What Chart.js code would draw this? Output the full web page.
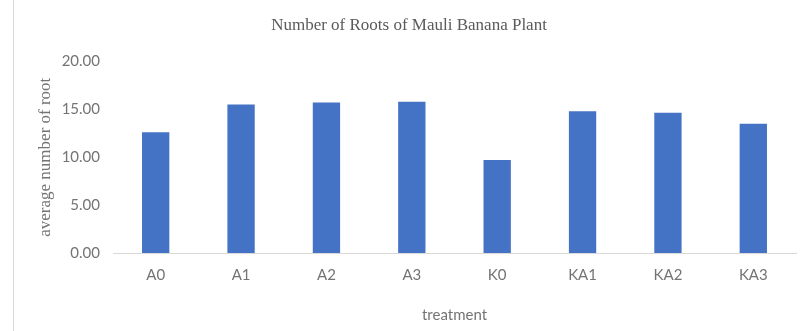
<!DOCTYPE html>
<html>
<head>
<meta charset="utf-8">
<script src="https://cdn.jsdelivr.net/npm/chart.js@4/dist/chart.umd.min.js"></script>
<style>
  html, body { margin: 0; padding: 0; background: #fff; }
  #wrap { width: 806px; height: 331px; }
</style>
</head>
<body>
<div id="wrap"><canvas id="rootChart" width="806" height="331"></canvas></div>
<script>
var treatments = ["A0", "A1", "A2", "A3", "K0", "KA1", "KA2", "KA3"];
var avgRoots = [12.6, 15.5, 15.7, 15.8, 9.7, 14.8, 14.65, 13.5];
var yTicks = [0, 5, 10, 15, 20];

var labelColor = "#747474";

// thin frame line down the left side of the chart
var frameLine = {
  id: "frameLine",
  beforeDraw: function (chart) {
    var c = chart.ctx;
    c.save();
    c.strokeStyle = "#d9d9d9";
    c.lineWidth = 1;
    c.beginPath();
    c.moveTo(13.5, 0);
    c.lineTo(13.5, chart.height);
    c.stroke();
    c.restore();
  },
};

var ctx = document.getElementById("rootChart").getContext("2d");

var rootChart = new Chart(ctx, {
  type: "bar",
  data: {
    labels: treatments,
    datasets: [
      {
        data: avgRoots,
        backgroundColor: "#4472C4",
        borderWidth: 0,
        categoryPercentage: 1,
        barPercentage: 0.32,
      },
    ],
  },
  options: {
    responsive: false,
    animation: false,
    layout: { padding: { left: 22, right: 10, top: 0, bottom: 0 } },
    plugins: {
      legend: { display: false },
      tooltip: { enabled: false },
      title: {
        display: true,
        text: "Number of Roots of Mauli Banana Plant",
        color: "#5a5a5a",
        font: { family: "Liberation Serif", size: 17, weight: "normal" },
        padding: { top: 15, bottom: 26 },
      },
    },
    scales: {
      x: {
        grid: { display: false, drawTicks: false },
        border: { display: true, color: "#d9d9d9", width: 1 },
        ticks: {
          color: labelColor,
          font: { family: "Lato", size: 15 },
          padding: 13,
        },
        title: {
          display: true,
          text: "treatment",
          color: labelColor,
          font: { family: "Lato", size: 15 },
          padding: { top: 0, bottom: 7 },
        },
        afterFit: function (axis) {
          axis.height = 78;
        },
      },
      y: {
        min: 0,
        max: 20,
        grid: { display: false, drawTicks: false },
        border: { display: false },
        afterBuildTicks: function (axis) {
          axis.ticks = yTicks.map(function (v) {
            return { value: v };
          });
        },
        ticks: {
          color: labelColor,
          font: { family: "Lato", size: 15 },
          padding: 13,
          callback: function (v) {
            return Number(v).toFixed(2);
          },
        },
        title: {
          display: true,
          text: "average number of root",
          color: labelColor,
          font: { family: "Liberation Serif", size: 17 },
          padding: { top: 13, bottom: 0 },
        },
        afterFit: function (axis) {
          axis.width = 91;
        },
      },
    },
  },
  plugins: [frameLine],
});
</script>
</body>
</html>
